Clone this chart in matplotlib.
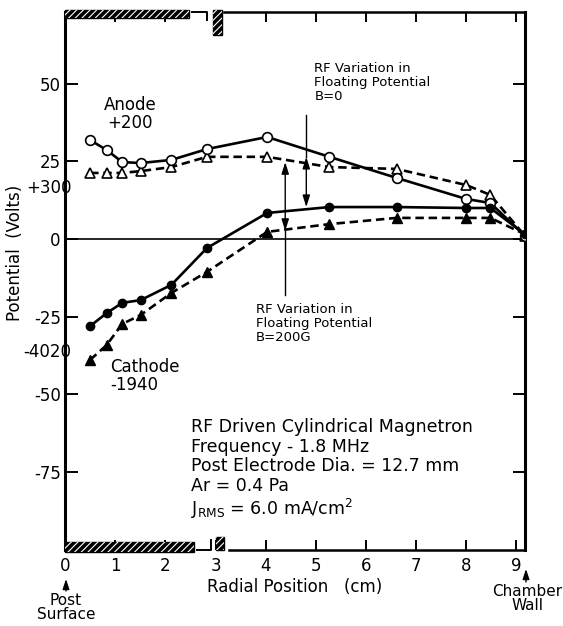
import matplotlib
matplotlib.use('Agg')
import matplotlib.pyplot as plt
from matplotlib.patches import Rectangle
from matplotlib.transforms import blended_transform_factory

plt.rcParams['font.family'] = ['DejaVu Sans']
plt.rcParams['axes.unicode_minus'] = False
plt.rcParams['hatch.linewidth'] = 0.8

# radial position (cm) of the probe points
radius = [0.50, 0.83, 1.14, 1.51, 2.12, 2.83, 4.03, 5.27, 6.61, 8.00, 8.48, 9.17]

# floating potential (V)
anode_b0 = [31.9, 28.7, 24.8, 24.5, 25.5, 29.0, 32.9, 26.5, 19.7, 12.9, 11.6, 1.0]
anode_b200 = [21.3, 21.3, 21.3, 21.9, 23.2, 26.5, 26.5, 23.2, 22.6, 17.4, 14.2, 1.0]
cathode_b0 = [-28.1, -23.9, -20.6, -19.7, -14.8, -2.9, 8.4, 10.3, 10.3, 10.0, 10.0, 1.5]
cathode_b200 = [-39.0, -34.2, -27.4, -24.5, -17.4, -10.6, 2.3, 4.8, 6.8, 6.8, 6.8, 1.5]

x_ticks = [0, 1, 2, 3, 4, 5, 6, 7, 8, 9]
y_ticks = [50, 25, 0, -25, -50, -75]
y_tick_labels = ['50', '25', '0', '-25', '-50', '-75']

fig = plt.figure(figsize=(5.63, 6.26), dpi=100)
ax = fig.add_axes([0.1155, 0.1214, 0.817, 0.8594])
ax.set_xlim(0, 9.17)
ax.set_ylim(-100.3, 73.2)

lw = 1.9
ax.plot(radius, anode_b0, '-', color='black', lw=lw, marker='o', ms=7,
        mfc='white', mec='black', mew=1.2, zorder=4)
ax.plot(radius, cathode_b0, '-', color='black', lw=lw, marker='o', ms=6,
        mfc='black', mec='black', zorder=4)
ax.plot(radius, anode_b200, color='black', lw=lw, dashes=(3.2, 1.8), marker='^', ms=7,
        mfc='white', mec='black', mew=1.2, zorder=3)
ax.plot(radius, cathode_b200, color='black', lw=lw, dashes=(3.2, 1.8), marker='^', ms=7,
        mfc='black', mec='black', zorder=3)

ax.axhline(0, color='black', lw=1.2, zorder=1)

# spines: left/right drawn, top/bottom broken like the original
for s in ['left', 'right']:
    ax.spines[s].set_linewidth(2.2)
for s in ['top', 'bottom']:
    ax.spines[s].set_visible(False)

tr = blended_transform_factory(ax.transData, ax.transAxes)
ax.plot([3.17, 9.17], [1, 1], color='black', lw=1.8, transform=tr, clip_on=False)
ax.plot([2.53, 2.83, 2.83], [1, 1, 0.985], color='black', lw=1.4, transform=tr, clip_on=False)
ax.plot([3.27, 9.17], [0, 0], color='black', lw=1.8, transform=tr, clip_on=False)
ax.plot([2.63, 2.91, 2.91], [0, 0, 0.019], color='black', lw=1.4, transform=tr, clip_on=False)

def hatched_bar(x0, x1, y0, y1):
    ax.add_patch(Rectangle((x0, y0), x1 - x0, y1 - y0, transform=tr, clip_on=False,
                           facecolor='black', edgecolor='black', lw=1.0, zorder=5))
    ax.add_patch(Rectangle((x0, y0), x1 - x0, y1 - y0, transform=tr, clip_on=False,
                           facecolor='none', edgecolor='white', hatch='/////', lw=0, zorder=6))

hatched_bar(0, 2.47, 0.9888, 1.0037)
hatched_bar(2.95, 3.13, 0.9572, 1.0037)
hatched_bar(0, 2.57, -0.0037, 0.0149)
hatched_bar(3.01, 3.17, 0.0, 0.0242)

ax.set_xticks(x_ticks)
ax.set_yticks(y_ticks)
ax.set_yticklabels(y_tick_labels)
ax.tick_params(axis='both', direction='in', labelsize=12, width=1.4)
ax.tick_params(axis='x', length=7, top=True, bottom=True, pad=5)
ax.tick_params(axis='y', length=9, left=True, right=True, pad=3)

ax.set_xlabel('Radial Position   (cm)', fontsize=12, labelpad=2)
fig.text(15 / 563, 1 - 253 / 626, 'Potential  (Volts)', rotation=90,
         ha='center', va='center', fontsize=12)

# stray secondary-scale labels on the y axis
ax.text(0.13, 16.5, '+300', ha='right', va='center', fontsize=12, clip_on=False)
ax.text(0.13, -36.5, '-4020', ha='right', va='center', fontsize=12, clip_on=False)

ax.text(1.3, 40.3, 'Anode\n+200', ha='center', va='center', fontsize=12, linespacing=1.0)
ax.text(0.9, -38.4, 'Cathode\n-1940', ha='left', va='top', fontsize=12, linespacing=1.0)

ax.text(4.97, 57.1, 'RF Variation in\nFloating Potential\nB=0', ha='left', va='top',
        fontsize=9.5, linespacing=1.1)
ax.text(3.81, -20.6, 'RF Variation in\nFloating Potential\nB=200G', ha='left', va='top',
        fontsize=9.5, linespacing=1.1)

ax.text(2.51, -57.7, 'RF Driven Cylindrical Magnetron\nFrequency - 1.8 MHz\n'
        'Post Electrode Dia. = 12.7 mm\nAr = 0.4 Pa\n'
        r'J$_{\mathrm{RMS}}$ = 6.0 mA/cm$^{2}$',
        ha='left', va='top', fontsize=12.5, linespacing=1.12)

head = '<|-|>,head_length=0.7,head_width=0.22'
# B = 0 arrow
ax.plot([4.81, 4.81], [40.0, 26.5], color='black', lw=1.0)
ax.annotate('', xy=(4.81, 10.3), xytext=(4.81, 26.5),
            arrowprops=dict(arrowstyle=head, color='black', lw=1.0, shrinkA=0, shrinkB=0))
# B = 200G arrow
ax.annotate('', xy=(4.39, 2.6), xytext=(4.39, 24.8),
            arrowprops=dict(arrowstyle=head, color='black', lw=1.0, shrinkA=0, shrinkB=0))
ax.plot([4.39, 4.39], [2.6, -18.0], color='black', lw=1.0)

# position markers under the axis
def pix(px, py):
    return (px / 563, 1 - py / 626)

fig_head = '-|>,head_length=0.6,head_width=0.2'
ax.annotate('', xy=pix(66, 579), xytext=pix(66, 591), xycoords='figure fraction',
            arrowprops=dict(arrowstyle=fig_head, color='black', lw=1.0, shrinkA=0, shrinkB=0))
fig.text(*pix(66, 593), 'Post\nSurface', ha='center', va='top', fontsize=11, linespacing=0.95)
ax.annotate('', xy=pix(526, 569), xytext=pix(526, 582), xycoords='figure fraction',
            arrowprops=dict(arrowstyle=fig_head, color='black', lw=1.0, shrinkA=0, shrinkB=0))
fig.text(*pix(527, 584), 'Chamber\nWall', ha='center', va='top', fontsize=11, linespacing=0.95)

fig.savefig('out.png', dpi=100)
